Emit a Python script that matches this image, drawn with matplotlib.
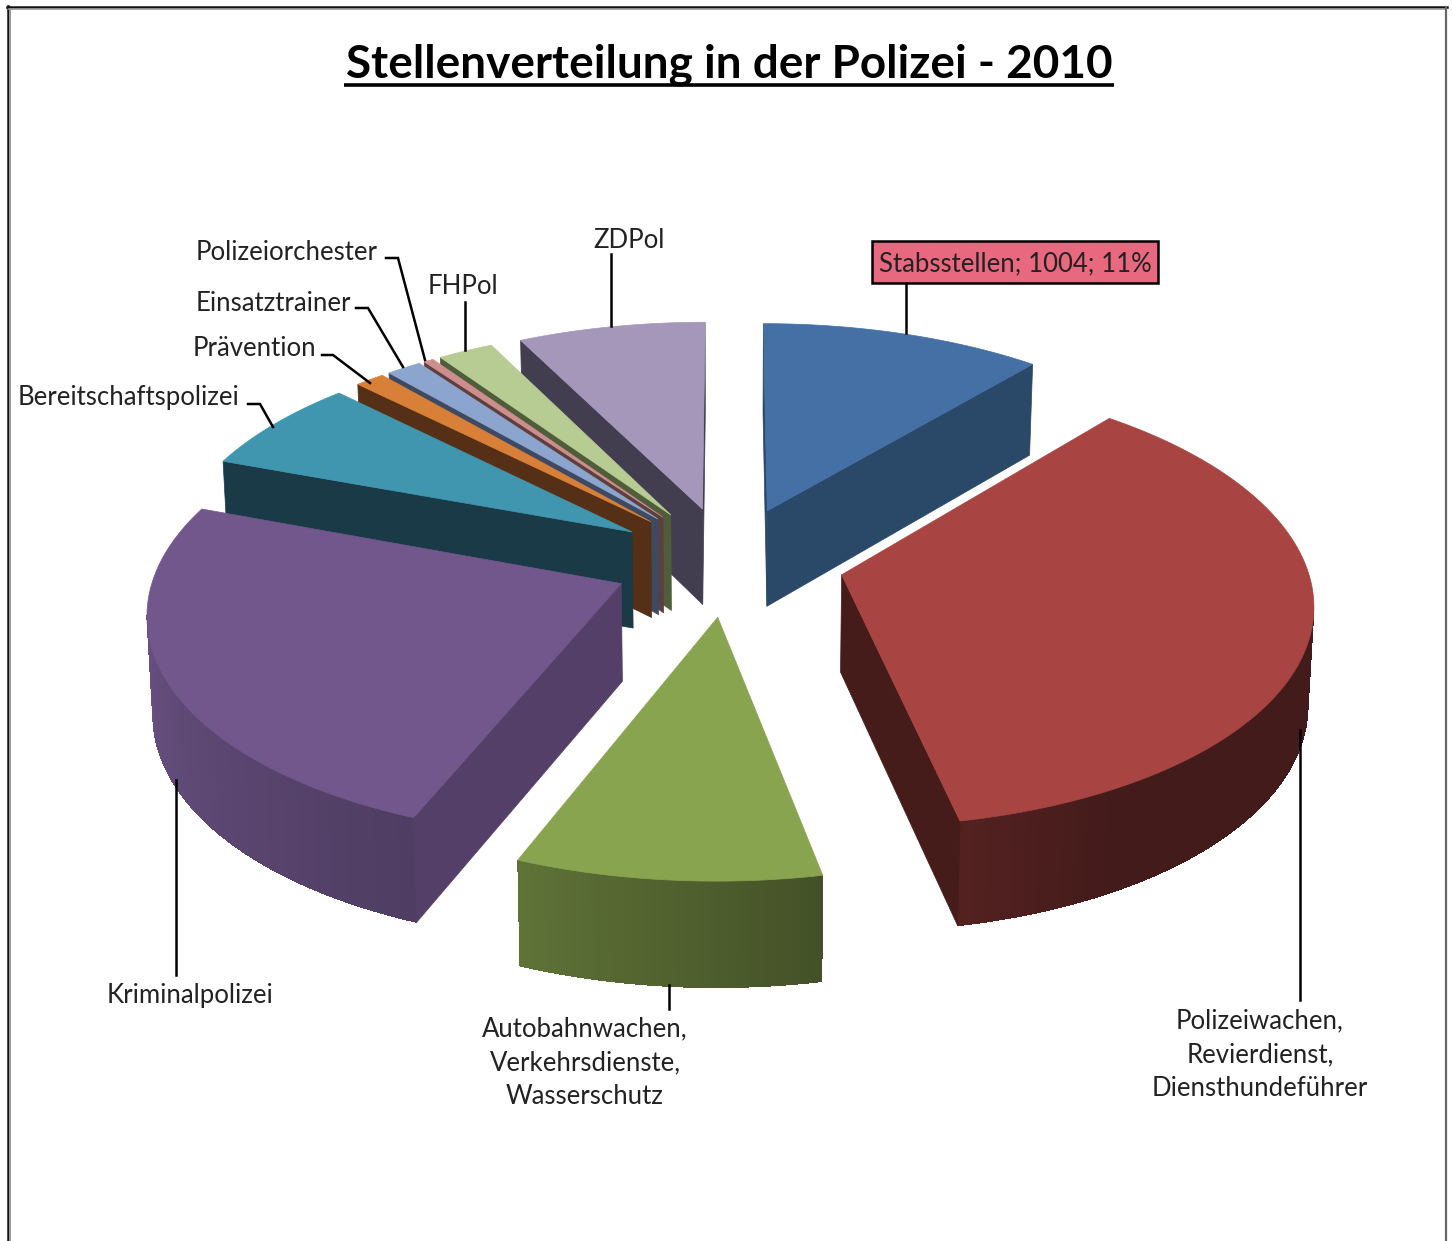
import numpy as np
import matplotlib
matplotlib.use('Agg')
import matplotlib.pyplot as plt
from matplotlib.patches import Polygon, Rectangle

# reihenfolge wie im diagramm, im uhrzeigersinn ab 12 uhr
names = ['Stabsstellen', 'Polizeiwachen', 'Autobahnwachen', 'Kriminalpolizei', 'Bereitschaftspolizei',
         'Prävention', 'Einsatztrainer', 'Polizeiorchester', 'FHPol', 'ZDPol']
values = [1004, 3212, 827, 2212, 615, 105, 125, 35, 198, 667]

top_colors = ['#4470A6', '#A84442', '#88A44F', '#71578C', '#3F96AE',
              '#D87F38', '#8CA5CE', '#CE8E8D', '#B6CC92', '#A597BA']
wall_colors = ['#2A4868', '#451C19', '#4A5A2A', '#533F68', '#1A3A47',
               '#553016', '#3E4A62', '#5E3F3F', '#4F5D3A', '#433D50']
draw_order = [9, 8, 7, 6, 5, 4, 0, 3, 1, 2]

# projektion
cx, cy = 728.5, 561
rx, ry = 464, 219.5
explode = 0.25
persp = 0.115
depth = 97
shade_angle = [90, 150, 168, 202, 270, 360]
shade_value = [0.40, 0.40, 0.49, 0.70, 0.95, 0.95]


def project(wx, wy, z):
    s = 1 / (1 + persp * wy)
    shrink = 1 - 0.01 * z
    return (cx + rx * wx * s * shrink,
            cy - ry * wy * s + z * depth * s ** 0.6)


def slice_points(a0, a1, z):
    mid = np.radians((a0 + a1) / 2)
    ox, oy = explode * np.sin(mid), explode * np.cos(mid)
    t = np.radians(np.linspace(a0, a1, max(int(a1 - a0) * 2, 6)))
    tip = np.array(project(ox, oy, z))
    rim = np.column_stack(project(ox + np.sin(t), oy + np.cos(t), z))
    return tip, rim


def area(q):
    x, y = q[:, 0], q[:, 1]
    return np.sum(x * np.roll(y, -1) - np.roll(x, -1) * y)


def darker(col, f):
    return tuple(np.array(matplotlib.colors.to_rgb(col)) * f)


fig = plt.figure(figsize=(14.52, 12.41), dpi=100)
ax = fig.add_axes([0, 0, 1, 1])
ax.set_xlim(0, 1452)
ax.set_ylim(1241, 0)
ax.axis('off')

angles = np.cumsum([0] + values) / sum(values) * 360

for i in draw_order:
    a0, a1 = angles[i], angles[i + 1]
    tip, rim = slice_points(a0, a1, 0)
    tip_b, rim_b = slice_points(a0, a1, 1)
    t = np.linspace(a0, a1, len(rim))

    # aussenwand, nur die sichtbaren stuecke
    vis = [k for k in range(len(rim) - 1) if rim[k + 1, 0] < rim[k, 0]]
    if vis:
        f = np.interp((a0 + a1) / 2, shade_angle, shade_value)
        under = np.vstack([rim[vis[0]:vis[-1] + 2], rim_b[vis[0]:vis[-1] + 2][::-1]])
        ax.add_patch(Polygon(under, closed=True, facecolor=darker(top_colors[i], f), edgecolor='none'))
    for k in vis:
        q = [rim[k], rim[k + 1], rim_b[k + 1], rim_b[k]]
        f = np.interp((t[k] + t[k + 1]) / 2, shade_angle, shade_value)
        ax.add_patch(Polygon(q, closed=True, facecolor=darker(top_colors[i], f), edgecolor='none',
                             antialiased=False))

    # radiale waende
    q0 = np.array([tip, rim[0], rim_b[0], tip_b])
    q1 = np.array([tip, rim[-1], rim_b[-1], tip_b])
    if area(q0) < 0:
        ax.add_patch(Polygon(q0, closed=True, facecolor=wall_colors[i], edgecolor=wall_colors[i], lw=0.5))
    if area(q1) > 0:
        ax.add_patch(Polygon(q1, closed=True, facecolor=wall_colors[i], edgecolor=wall_colors[i], lw=0.5))

    top = np.vstack([tip, rim])
    ax.add_patch(Polygon(top, closed=True, facecolor=top_colors[i], edgecolor=top_colors[i], lw=0.5))

# rahmen
ax.plot([7.5, 7.5], [6, 1241], color='#111111', lw=1.8)
ax.plot([9.5, 9.5], [8, 1241], color='#999999', lw=1.4)
ax.plot([7, 1447], [7, 7], color='#111111', lw=1.8)
ax.plot([9, 1445], [9, 9], color='#999999', lw=1.2)
ax.plot([1446, 1446], [7, 1241], color='#666666', lw=1.6)

# titel
ax.text(729, 65, 'Stellenverteilung in der Polizei - 2010', ha='center', va='center',
        fontsize=33, fontweight='bold', family='Lato', color='black')
ax.plot([344, 1114], [85, 85], color='black', lw=2.6, solid_capstyle='butt')

# beschriftungen
label_font = dict(fontsize=18.5, family='Lato', color='#222222', ha='center', va='center', linespacing=1.45)
ax.text(287, 252.5, names[7], **label_font)
ax.text(273, 303.5, names[6], **label_font)
ax.text(254, 349, names[5], **label_font)
ax.text(129, 397.5, names[4], **label_font)
ax.text(463, 286, names[8], **label_font)
ax.text(629, 240, names[9], **label_font)
ax.text(190, 995.5, names[3], **label_font)
ax.text(585, 1063, 'Autobahnwachen,\nVerkehrsdienste,\nWasserschutz', **label_font)
ax.text(1260, 1055, 'Polizeiwachen,\nRevierdienst,\nDiensthundeführer', **label_font)

ax.add_patch(Rectangle((872, 241), 286, 42, facecolor='#E8687F', edgecolor='black', lw=1.8))
ax.text(1015, 264, '%s; %d; %d%%' % (names[0], values[0], round(values[0] / sum(values) * 100)), **label_font)

# fuehrungslinien
leaders = [
    ([906, 906], [283, 333]),
    ([611, 611], [254, 326]),
    ([465, 465], [302, 350]),
    ([386, 398, 425], [258, 258, 360]),
    ([356, 368, 403], [308, 308, 367]),
    ([322, 333, 370], [355, 355, 383]),
    ([248, 260, 273], [404, 404, 427]),
    ([176, 176], [975, 780]),
    ([669, 669], [1009, 985]),
    ([1300, 1300], [1000, 730]),
]
for lx, ly in leaders:
    ax.plot(lx, ly, color='black', lw=1.8, solid_joinstyle='miter')

fig.savefig('out.png', dpi=100)
